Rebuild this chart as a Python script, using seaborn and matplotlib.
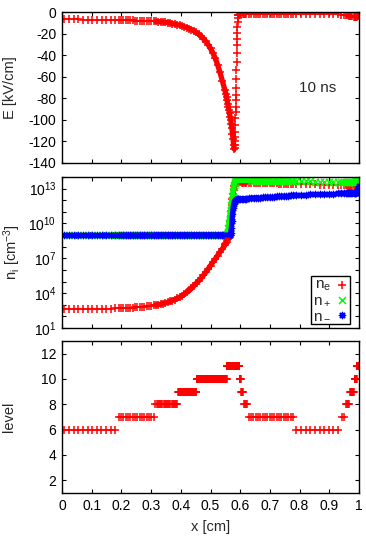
import numpy as np
import matplotlib
matplotlib.use("Agg")
import matplotlib.pyplot as plt
import matplotlib.ticker as mticker
import seaborn as sns

# ---- electric field, x in cm, E in kV/cm ----
x_E = [0.008, 0.023, 0.039, 0.055, 0.070, 0.086, 0.102, 0.117, 0.133, 0.148, 0.164, 0.180,
       0.191, 0.199, 0.207, 0.215, 0.223, 0.230, 0.238, 0.246, 0.254, 0.262, 0.270, 0.277,
       0.285, 0.293, 0.301, 0.309,
       0.316, 0.324, 0.332, 0.340, 0.348, 0.356, 0.364, 0.372, 0.380, 0.388, 0.396, 0.404,
       0.412, 0.420, 0.428, 0.436, 0.444, 0.452, 0.460, 0.468, 0.476, 0.484, 0.492, 0.500,
       0.508, 0.516, 0.524, 0.532, 0.540, 0.548,
       0.552, 0.554, 0.556, 0.558, 0.560, 0.562, 0.564, 0.566, 0.568, 0.570, 0.572, 0.574,
       0.576, 0.578, 0.580,
       0.5810, 0.5815, 0.5820, 0.5825, 0.5830, 0.5835, 0.5840, 0.5845, 0.5850, 0.5855,
       0.5860, 0.5865, 0.5870, 0.5875, 0.5880, 0.5885, 0.5890, 0.5895, 0.5900, 0.5905,
       0.5910, 0.5915, 0.5920,
       0.594, 0.597, 0.600, 0.604, 0.608, 0.612, 0.616, 0.620,
       0.629, 0.637, 0.645, 0.652, 0.660, 0.668, 0.676, 0.684, 0.691, 0.699, 0.707, 0.715,
       0.723, 0.730, 0.738, 0.746, 0.754, 0.762, 0.770, 0.777,
       0.789, 0.805, 0.820, 0.836, 0.852, 0.867, 0.883, 0.898, 0.914, 0.930,
       0.941, 0.949, 0.955, 0.959, 0.963, 0.967, 0.970, 0.974, 0.978, 0.982, 0.985, 0.988,
       0.991, 0.994, 0.996, 0.998, 1.000]
E_field = [-6.8, -6.8, -6.9, -6.9, -7.0, -7.0, -7.1, -7.1, -7.2, -7.3, -7.3, -7.4,
           -7.5, -7.5, -7.6, -7.6, -7.7, -7.7, -7.8, -7.9, -7.9, -8.0, -8.1, -8.2,
           -8.3, -8.4, -8.5, -8.6,
           -8.7, -8.9, -9.1, -9.3, -9.6, -9.9, -10.3, -10.7, -11.2, -11.7, -12.3, -12.9,
           -13.6, -14.4, -15.3, -16.3, -17.5, -18.9, -20.5, -22.4, -24.6, -27.2, -30.2, -33.8,
           -38.0, -43.0, -49.0, -56.0, -64.0, -72.0,
           -76, -79, -82, -85, -88, -91, -94, -97, -100, -104, -108, -113,
           -118, -123, -127,
           -126, -123, -120, -116, -111, -105, -98, -93, -88, -82,
           -77, -70, -62, -54, -46, -38, -31, -25, -19, -14,
           -9, -6, -3,
           -2.5, -2.3, -2.2, -2.1, -2.0, -2.0, -1.9, -1.9,
           -1.9, -1.9, -1.9, -1.8, -1.8, -1.8, -1.8, -1.7, -1.7, -1.7, -1.7, -1.6,
           -1.6, -1.6, -1.6, -1.6, -1.5, -1.5, -1.5, -1.5,
           -1.5, -1.5, -1.5, -1.6, -1.6, -1.7, -1.8, -1.9, -2.0, -2.2,
           -2.4, -2.6, -2.8, -3.0, -3.2, -3.4, -3.6, -3.8, -4.0, -4.2, -4.3, -4.4,
           -4.4, -4.2, -3.8, -3.2, -2.5]

# ---- species densities (log10 of cm^-3) ----
x_n = [0.008, 0.023, 0.039, 0.055, 0.070, 0.086, 0.102, 0.117, 0.133, 0.148, 0.164, 0.180,
       0.191, 0.199, 0.207, 0.215, 0.223, 0.230, 0.238, 0.246, 0.254, 0.262, 0.270, 0.277,
       0.285, 0.293, 0.301, 0.309,
       0.316, 0.324, 0.332, 0.340, 0.348, 0.356, 0.364, 0.372, 0.380, 0.388, 0.396, 0.404,
       0.412, 0.420, 0.428, 0.436, 0.444, 0.452, 0.460, 0.468, 0.476, 0.484, 0.492, 0.500,
       0.508, 0.516, 0.524, 0.532, 0.540, 0.548,
       0.550, 0.552, 0.554, 0.556, 0.558, 0.560, 0.562, 0.564, 0.566, 0.568, 0.570, 0.572,
       0.574, 0.576, 0.578, 0.580, 0.582, 0.584, 0.586, 0.588, 0.590, 0.592, 0.594, 0.596,
       0.600, 0.605, 0.610, 0.615, 0.620,
       0.629, 0.637, 0.645, 0.652, 0.660, 0.668, 0.676, 0.684, 0.691, 0.699, 0.707, 0.715,
       0.723, 0.730, 0.738, 0.746, 0.754, 0.762, 0.770, 0.777,
       0.789, 0.805, 0.820, 0.836, 0.852, 0.867, 0.883, 0.898, 0.914, 0.930,
       0.941, 0.949, 0.955, 0.959, 0.963, 0.967, 0.970, 0.974, 0.978, 0.982, 0.985, 0.988,
       0.991, 0.994, 0.996, 0.998, 1.000]
log_ne = [2.62, 2.62, 2.62, 2.62, 2.63, 2.63, 2.64, 2.64, 2.65, 2.66, 2.67, 2.68,
          2.69, 2.70, 2.71, 2.72, 2.73, 2.74, 2.75, 2.77, 2.78, 2.80, 2.82, 2.84,
          2.86, 2.88, 2.91, 2.94,
          2.97, 3.01, 3.05, 3.10, 3.15, 3.21, 3.28, 3.36, 3.44, 3.54, 3.65, 3.77,
          3.91, 4.06, 4.23, 4.42, 4.63, 4.85, 5.05, 5.28, 5.53, 5.80, 6.08, 6.37,
          6.66, 6.95, 7.24, 7.53, 7.82, 8.12,
          8.2, 8.3, 8.4, 8.55, 8.7, 8.9, 9.2, 9.6, 10.1, 10.6, 11.1, 11.6,
          12.1, 12.5, 12.9, 13.2, 13.4, 13.5, 13.55, 13.6, 13.6, 13.6, 13.6, 13.6,
          13.55, 13.5, 13.5, 13.5, 13.5,
          13.5, 13.5, 13.5, 13.49, 13.49, 13.48, 13.48, 13.47, 13.47, 13.46, 13.46, 13.45,
          13.45, 13.44, 13.44, 13.43, 13.43, 13.42, 13.42, 13.41,
          13.40, 13.39, 13.38, 13.37, 13.36, 13.35, 13.34, 13.33, 13.32, 13.31,
          13.30, 13.29, 13.28, 13.27, 13.26, 13.25, 13.24, 13.23, 13.22, 13.21, 13.21, 13.20,
          13.20, 13.22, 13.30, 13.45, 13.60]
log_npos = [9.0, 9.0, 9.0, 9.0, 9.0, 9.0, 9.0, 9.0, 9.0, 9.0, 9.0, 9.0,
            9.0, 9.0, 9.0, 9.0, 9.0, 9.0, 9.0, 9.0, 9.0, 9.0, 9.0, 9.0,
            9.0, 9.0, 9.0, 9.0,
            9.0, 9.0, 9.0, 9.0, 9.0, 9.0, 9.0, 9.0, 9.0, 9.0, 9.0, 9.0,
            9.0, 9.0, 9.0, 9.0, 9.0, 9.0, 9.0, 9.0, 9.0, 9.0, 9.0, 9.0,
            9.0, 9.0, 9.0, 9.0, 9.0, 9.0,
            9.0, 9.0, 9.05, 9.1, 9.3, 9.6, 10.0, 10.4, 10.8, 11.2, 11.6, 12.0,
            12.4, 12.8, 13.1, 13.35, 13.5, 13.6, 13.65, 13.7, 13.7, 13.7, 13.7, 13.7,
            13.7, 13.7, 13.7, 13.7, 13.7,
            13.7, 13.7, 13.69, 13.69, 13.69, 13.68, 13.68, 13.68, 13.67, 13.67, 13.67, 13.66,
            13.66, 13.66, 13.65, 13.65, 13.65, 13.64, 13.64, 13.64,
            13.63, 13.63, 13.62, 13.62, 13.61, 13.61, 13.60, 13.60, 13.60, 13.59,
            13.59, 13.58, 13.58, 13.58, 13.58, 13.58, 13.58, 13.58, 13.58, 13.59, 13.60, 13.61,
            13.62, 13.65, 13.70, 13.78, 13.85]
log_nneg = [9.0, 9.0, 9.0, 9.0, 9.0, 9.0, 9.0, 9.0, 9.0, 9.0, 9.0, 9.0,
            9.0, 9.0, 9.0, 9.0, 9.0, 9.0, 9.0, 9.0, 9.0, 9.0, 9.0, 9.0,
            9.0, 9.0, 9.0, 9.0,
            9.0, 9.0, 9.0, 9.0, 9.0, 9.0, 9.0, 9.0, 9.0, 9.0, 9.0, 9.0,
            9.0, 9.0, 9.0, 9.0, 9.0, 9.0, 9.0, 9.0, 9.0, 9.0, 9.0, 9.0,
            9.0, 9.0, 9.0, 9.0, 9.0, 9.0,
            9.0, 9.0, 9.0, 9.0, 9.0, 9.0, 9.0, 9.0, 9.0, 9.2, 9.6, 10.2,
            10.8, 11.3, 11.7, 11.9, 12.0, 12.05, 12.1, 12.1, 12.1, 12.1, 12.1, 12.1,
            12.1, 12.1, 12.12, 12.13, 12.14,
            12.15, 12.17, 12.18, 12.2, 12.21, 12.23, 12.24, 12.26, 12.27, 12.29, 12.3, 12.32,
            12.33, 12.35, 12.36, 12.37, 12.38, 12.39, 12.41, 12.42,
            12.44, 12.46, 12.48, 12.5, 12.52, 12.53, 12.55, 12.56, 12.57, 12.58,
            12.59, 12.6, 12.6, 12.6, 12.6, 12.61, 12.61, 12.61, 12.61, 12.62, 12.62, 12.62,
            12.63, 12.7, 12.85, 13.0, 13.2]

# ---- refinement level of the adaptive mesh: segments [start, end) and level ----
lev_start = [0.0, 0.1875, 0.3125, 0.390625, 0.453125, 0.5546875, 0.59765625, 0.6015625,
             0.609375, 0.625, 0.78125, 0.9375, 0.953125, 0.96875, 0.984375, 0.9921875]
lev_end = [0.1875, 0.3125, 0.390625, 0.453125, 0.5546875, 0.59765625, 0.6015625, 0.609375,
           0.625, 0.78125, 0.9375, 0.953125, 0.96875, 0.984375, 0.9921875, 1.0]
lev_value = [6, 7, 8, 9, 10, 11, 10, 9, 8, 7, 6, 7, 8, 9, 10, 11]

# cell centres: cell width at level L is 2**-L cm
x_lev, y_lev = [], []
for a, b, lev in zip(lev_start, lev_end, lev_value):
    dx = 2.0 ** -lev
    centres = np.arange(a + dx / 2, b, dx)
    x_lev.extend(centres)
    y_lev.extend([lev] * len(centres))

sns.set_theme(style="ticks")
plt.rcParams['font.family'] = ['Liberation Sans', 'DejaVu Sans']
plt.rcParams['mathtext.fontset'] = 'custom'
plt.rcParams['mathtext.rm'] = 'Liberation Sans'
plt.rcParams['mathtext.it'] = 'Liberation Sans'
plt.rcParams['axes.unicode_minus'] = False

RED, GREEN, BLUE = '#ff0000', '#00ff00', '#0000ff'
asterisk = (8, 2, 0)
mk = dict(s=26, linewidth=1.1, legend=False)


def dense_band(ax, x, y, color, lo, hi):
    # the fine-mesh parts look like a solid thick band of overlapping points
    x = np.asarray(x)
    y = np.asarray(y)
    sel = (x >= lo) & (x <= hi)
    sns.lineplot(x=x[sel], y=y[sel], ax=ax, color=color, lw=3.8, sort=False,
                 estimator=None, legend=False)


fig = plt.figure(figsize=(3.66, 5.49), dpi=100)
ax1 = fig.add_axes([0.1694, 0.7031, 0.8115, 0.2750])
ax2 = fig.add_axes([0.1694, 0.4026, 0.8115, 0.2750])
ax3 = fig.add_axes([0.1694, 0.1020, 0.8115, 0.2769])

for ax in (ax1, ax2, ax3):
    ax.set_xlim(0, 1)
    ax.xaxis.set_major_locator(mticker.MultipleLocator(0.1))
    ax.tick_params(which='both', direction='in', top=True, right=True,
                   length=3, width=0.8, labelsize=10, colors='black', pad=4)
    for s in ax.spines.values():
        s.set_color('black')
        s.set_linewidth(1.0)

# top: electric field
dense_band(ax1, x_E, E_field, RED, 0.31, 0.580)
sns.scatterplot(x=x_E, y=E_field, ax=ax1, marker='+', color=RED, **mk)
ax1.set_ylim(-140, 0)
ax1.yaxis.set_major_locator(mticker.MultipleLocator(20))
ax1.set_xticklabels([])
ax1.set_xlabel('')
ax1.set_ylabel('E [kV/cm]', fontsize=10.5)
ax1.yaxis.set_label_coords(-0.15, 0.5)
ax1.text(0.862, 0.50, '10 ns', transform=ax1.transAxes, ha='center', va='center', fontsize=11)

# middle: densities
ne = 10.0 ** np.array(log_ne)
npos = 10.0 ** np.array(log_npos)
nneg = 10.0 ** np.array(log_nneg)
dense_band(ax2, x_n, ne, RED, 0.31, 0.62)
sns.scatterplot(x=x_n, y=ne, ax=ax2, marker='+', color=RED, label=r'n$_e$', **mk)
dense_band(ax2, x_n, npos, GREEN, 0.55, 0.66)
sns.scatterplot(x=x_n, y=npos, ax=ax2, marker='x', color=GREEN, label=r'n$_+$', **mk)
dense_band(ax2, x_n, nneg, BLUE, 0.31, 0.66)
sns.scatterplot(x=x_n, y=nneg, ax=ax2, marker=asterisk, color=BLUE, label=r'n$_-$',
                s=20, linewidth=1.0, legend=False)
ax2.set_yscale('log')
ax2.set_ylim(1e1, 1e14)
ax2.set_yticks([1e1, 1e4, 1e7, 1e10, 1e13])
ax2.yaxis.set_major_formatter(mticker.LogFormatterMathtext())
ax2.set_yticks([10.0 ** k for k in (2, 3, 5, 6, 8, 9, 11, 12, 14)], minor=True)
ax2.yaxis.set_minor_formatter(mticker.NullFormatter())
ax2.set_xticklabels([])
ax2.set_xlabel('')
ax2.set_ylabel(r'n$_\mathrm{i}$ [cm$^{-3}$]', fontsize=10.5)
ax2.yaxis.set_label_coords(-0.13, 0.5)
ax2.legend(loc='lower right', bbox_to_anchor=(0.970, 0.026), borderaxespad=0,
           markerfirst=False, fancybox=False, edgecolor='black', framealpha=1,
           fontsize=11, handletextpad=0.3, handlelength=0.8, labelspacing=0.0,
           borderpad=0.15)
ax2.get_legend().get_frame().set_linewidth(1.0)

# bottom: refinement level
sns.scatterplot(x=x_lev, y=y_lev, ax=ax3, marker='+', color=RED, **mk)
ax3.set_ylim(1, 13)
ax3.yaxis.set_major_locator(mticker.MultipleLocator(2))
ax3.xaxis.set_major_formatter(mticker.FuncFormatter(lambda v, p: f'{v:g}'))
ax3.set_xlabel('x [cm]', fontsize=10.5, labelpad=5)
ax3.set_ylabel('level', fontsize=10.5)
ax3.yaxis.set_label_coords(-0.155, 0.5)

fig.savefig('out.png', dpi=100)
